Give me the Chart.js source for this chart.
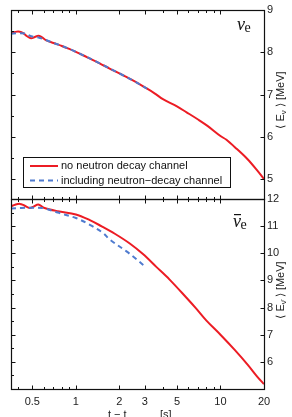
<!DOCTYPE html>
<html><head><meta charset="utf-8">
<script src="https://cdn.jsdelivr.net/npm/chart.js@4"></script>
<style>
html,body{margin:0;padding:0;background:#fff;width:292px;height:417px;overflow:hidden}
#c1{position:absolute;left:0;top:0}
#c2{position:absolute;left:0;top:150px}
</style></head><body>
<canvas id="c1" width="292" height="240"></canvas>
<canvas id="c2" width="292" height="267"></canvas>
<script>
// ---- data (time after bounce [s], mean energy [MeV]) ----
const tRedTop = [0.356,0.38,0.40,0.43,0.46,0.49,0.52,0.55,0.58,0.62,0.7,0.8,0.9,1.0,1.2,1.46,1.7,2.0,2.5,3.0,3.5,4.0,5.0,5.83,7.0,8.13,10,11,13,15.4,18,20];
const eRedTop = [8.45,8.48,8.49,8.46,8.38,8.33,8.36,8.39,8.36,8.29,8.22,8.15,8.08,8.01,7.88,7.74,7.62,7.5,7.33,7.17,7.03,6.89,6.72,6.58,6.41,6.26,6.02,5.93,5.71,5.47,5.2,5.0];
const tBlueTop = [0.356,0.40,0.45,0.48,0.52,0.55,0.6,0.7,0.8,1.0,1.46,2.0,2.5,3.1];
const eBlueTop = [8.44,8.45,8.44,8.39,8.36,8.35,8.31,8.22,8.15,8.01,7.74,7.5,7.33,7.14];
const tRedBot = [0.356,0.38,0.41,0.44,0.48,0.51,0.55,0.6,0.75,1.0,1.25,1.5,1.86,2.36,2.91,3.6,4.45,5.8,6.8,8.0,10,12.5,15.4,18,20];
const eRedBot = [11.73,11.79,11.82,11.76,11.67,11.72,11.8,11.68,11.55,11.43,11.22,11.0,10.72,10.36,9.97,9.5,9.03,8.37,7.96,7.52,7.0,6.45,5.9,5.45,5.18];
const tBlueBot = [0.356,0.42,0.5,0.6,0.75,1.0,1.25,1.54,1.72,2.24,2.6,2.91,3.05];
const eBlueBot = [11.65,11.67,11.68,11.66,11.5,11.3,11.05,10.75,10.5,10.07,9.8,9.58,9.5];

const seriesNames = ['no neutron decay channel','including neutron\u2212decay channel'];
const xTicks = [0.5,1,2,3,5,10,20];
const xTickLabels = ['0.5','1','2','3','5','10','20'];
const xMinor = [0.4,0.5,0.6,0.7,0.8,0.9,1,2,3,4,5,6,7,8,9,10,20];
const yTopTicks = [5,6,7,8,9];
const yBotTicks = [6,7,8,9,10,11,12];
const X_MIN = 0.356, X_MAX = 20;
const YTOP_MIN = 4.53, YTOP_MAX = 9;
const YBOT_MIN = 5, YBOT_MAX = 12;

const RED = '#ec1c24', BLUE = '#4f7bcf';
const FONT = '"Liberation Sans", Arial, Helvetica, sans-serif';
const SERIF = '"Liberation Serif", "DejaVu Serif", serif';

const pts = (t, e) => t.map((v, i) => ({x: v, y: e[i]}));

const frame = {
  id: 'frame',
  afterDraw(chart, args, o) {
    const {ctx, chartArea: a, scales} = chart;
    const x = scales.x, y = scales.y;
    ctx.save();
    ctx.strokeStyle = '#111'; ctx.lineWidth = 1.2;
    const L = Math.round(a.left)+0.5, R = Math.round(a.right)+0.5, T = Math.round(a.top)+0.5, B = Math.round(a.bottom)+0.5;
    ctx.strokeRect(L, T, R-L, B-T);
    ctx.lineWidth = 1;
    ctx.beginPath();
    for (const v of xMinor) {
      const px = Math.round(x.getPixelForValue(v))+0.5;
      const len = xTicks.includes(v) ? 4 : 2.5;
      ctx.moveTo(px, T); ctx.lineTo(px, T+len);
      ctx.moveTo(px, B); ctx.lineTo(px, B-len);
    }
    for (let v = Math.ceil(y.min*2)/2; v <= y.max; v += 0.5) {
      const py = Math.round(y.getPixelForValue(v))+0.5;
      const len = Number.isInteger(v) ? 4 : 2.5;
      ctx.moveTo(L, py); ctx.lineTo(L+len, py);
      if (Number.isInteger(v)) { ctx.moveTo(R, py); ctx.lineTo(R-4, py); }
    }
    ctx.stroke();
    // panel label
    ctx.fillStyle = '#111';
    ctx.font = 'italic 18px ' + SERIF;
    ctx.textBaseline = 'alphabetic';
    const lx = a.right - o.labelDx, ly = a.top + o.labelDy;
    ctx.fillText('\u03bd', lx, ly);
    const nw = ctx.measureText('\u03bd').width;
    if (o.bar) { ctx.fillRect(lx+1, ly-13, nw-1, 1.2); }
    ctx.font = '14px ' + SERIF;
    ctx.fillText('e', lx + nw - 0.5, ly + 2);
    // rotated axis title
    ctx.save();
    ctx.translate(o.titleX, o.titleY);
    ctx.rotate(-Math.PI/2);
    ctx.font = '11px ' + FONT;
    ctx.fillStyle = '#222';
    const p1 = '\u27e8 E', p3 = ' \u27e9 [MeV]';
    const w1 = ctx.measureText(p1).width, w3 = ctx.measureText(p3).width;
    ctx.font = '8px ' + FONT;
    const sub = o.bar ? '\u03bd\u0304' : '\u03bd';
    const w2 = ctx.measureText('\u03bd').width;
    const tot = w1 + w2 + w3;
    let cx = -tot/2;
    ctx.textBaseline = 'middle';
    ctx.font = '11px ' + FONT; ctx.fillText(p1, cx, 0); cx += w1;
    ctx.font = '8px ' + FONT; ctx.fillText(sub, cx, 3); cx += w2;
    ctx.font = '11px ' + FONT; ctx.fillText(p3, cx, 0);
    ctx.restore();
    // legend
    if (o.legend) {
      const lg = o.legend;
      ctx.fillStyle = '#fff';
      ctx.fillRect(lg.x, lg.y, lg.w, lg.h);
      ctx.strokeStyle = '#111'; ctx.lineWidth = 1;
      ctx.strokeRect(lg.x+0.5, lg.y+0.5, lg.w, lg.h);
      const ds = chart.data.datasets;
      const rows = [ds.find(d => d.label === seriesNames[0]), ds.find(d => d.label === seriesNames[1])];
      rows.forEach((d, i) => {
        const yy = lg.y + 9 + i*14.5;
        ctx.strokeStyle = d.borderColor; ctx.lineWidth = 2;
        ctx.setLineDash(d.borderDash || []);
        ctx.beginPath(); ctx.moveTo(lg.x+7, yy); ctx.lineTo(lg.x+35, yy); ctx.stroke();
        ctx.setLineDash([]);
        ctx.fillStyle = '#111'; ctx.font = '11px ' + FONT; ctx.textBaseline = 'middle';
        ctx.fillText(d.label, lg.x + 38, yy);
      });
    }
    // x-axis title
    if (o.xTitle) {
      ctx.fillStyle = '#222'; ctx.textBaseline = 'alphabetic';
      ctx.font = '11px ' + FONT;
      const bx = o.xTitle.x, by = o.xTitle.y;
      ctx.fillText('t \u2212 t', bx, by);
      const w = ctx.measureText('t \u2212 t').width;
      ctx.font = '8px ' + FONT;
      ctx.fillText('bounce', bx + w + 1, by + 8);
      ctx.font = '11px ' + FONT;
      ctx.fillText('[s]', bx + 52, by);
    }
    ctx.restore();
  }
};

function xScale(show) {
  return {
    type: 'logarithmic', min: X_MIN, max: X_MAX, display: show,
    grid: {display: false, drawTicks: false}, border: {display: false},
    ticks: {padding: 6, autoSkip: false, maxRotation: 0, color: '#222', font: {family: FONT, size: 11},
      callback: (v, i) => xTickLabels[i] ?? ''},
    afterBuildTicks: s => { s.ticks = xTicks.map(v => ({value: v})); },
    afterFit: s => { s.height = show ? 28 : 0; }
  };
}
function yScale(min, max, ticks) {
  return {
    position: 'right', min, max,
    grid: {display: false, drawTicks: false}, border: {display: false},
    ticks: {padding: 3, color: '#222', font: {family: FONT, size: 11}, callback: v => String(v)},
    afterBuildTicks: s => { s.ticks = ticks.map(v => ({value: v})); },
    afterFit: s => { s.width = 28; }
  };
}
function datasets(tr, er, tb, eb) {
  return [
    {label: seriesNames[1], data: pts(tb, eb), borderColor: BLUE, borderWidth: 2, borderDash: [5, 4], pointRadius: 0, tension: 0.35, order: 0},
    {label: seriesNames[0], data: pts(tr, er), borderColor: RED, borderWidth: 2, pointRadius: 0, tension: 0.35, order: 1}
  ];
}
const common = {responsive: false, animation: false, events: [],
  plugins: {legend: {display: false}, tooltip: {enabled: false}}};

new Chart(document.getElementById('c1'), {
  type: 'line',
  data: {datasets: datasets(tRedTop, eRedTop, tBlueTop, eBlueTop)},
  options: {...common,
    layout: {padding: {left: 11, top: 10, right: 0, bottom: 41}},
    scales: {x: xScale(false), y: yScale(YTOP_MIN, YTOP_MAX, yTopTicks)},
    plugins: {...common.plugins, frame: {labelDx: 27, labelDy: 20, bar: false, titleX: 281, titleY: 100,
      legend: {x: 23, y: 157, w: 207, h: 30}}}
  },
  plugins: [frame]
});
new Chart(document.getElementById('c2'), {
  type: 'line',
  data: {datasets: datasets(tRedBot, eRedBot, tBlueBot, eBlueBot)},
  options: {...common,
    layout: {padding: {left: 11, top: 49, right: 0, bottom: 0}},
    scales: {x: xScale(true), y: yScale(YBOT_MIN, YBOT_MAX, yBotTicks)},
    plugins: {...common.plugins, frame: {labelDx: 31, labelDy: 28, bar: true, titleX: 281, titleY: 140,
      xTitle: {x: 108, y: 268}}}
  },
  plugins: [frame]
});
</script>
</body></html>
